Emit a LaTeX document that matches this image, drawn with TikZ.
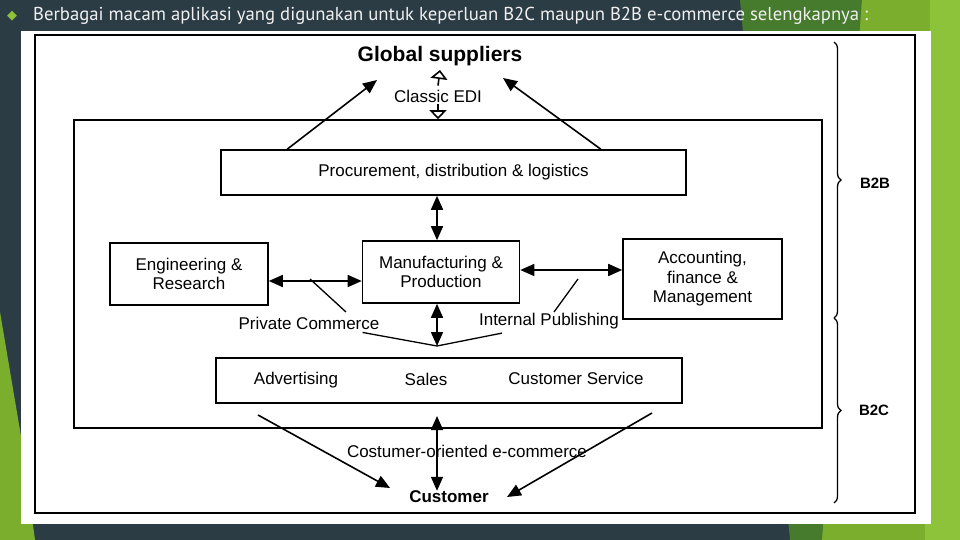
\documentclass[tikz,border=0pt]{standalone}
\usepackage{fontspec}
\setmainfont{Liberation Sans}
\newfontfamily\headfont{PT Sans}
\newfontfamily\symfont{DejaVu Sans}
\usetikzlibrary{arrows.meta,positioning,decorations.pathreplacing}
\definecolor{slate}{HTML}{2B3C45}
\definecolor{darkgreen}{HTML}{467A2C}
\definecolor{midgreen}{HTML}{7CAE2E}
\definecolor{lightgreen}{HTML}{8DC33A}
\tikzstyle{arrow} = [line width=1.6pt,<->]
\tikzstyle{hollow} = [line width=1.6pt,-{Triangle[open,length=9pt,width=17pt]}]

\begin{document}
\begin{tikzpicture}[x=1pt,y=-1pt,>={Triangle[length=14pt,width=12pt]},
    box/.style={draw,line width=1.6pt,inner sep=0pt,align=center,font=\fontsize{17}{19.5}\selectfont},
    txt/.style={inner sep=0pt,font=\fontsize{17}{19.5}\selectfont},
    bold/.style={inner sep=0pt,font=\fontsize{17}{19}\selectfont\bfseries}]
    % slide background
    \fill[slate] (0,0) rectangle (960,540);
    \fill[darkgreen] (740,0) -- (960,0) -- (960,540) -- (790,540) -- cycle;
    \fill[midgreen] (862,0) -- (960,0) -- (960,540) -- (822,540) -- cycle;
    \fill[lightgreen] (930,0) -- (960,0) -- (960,540) -- (925,540) -- cycle;
    \fill[midgreen] (0,312) -- (22,442) -- (35,540) -- (0,540) -- cycle;
    \fill[white] (21,31) rectangle (931,524);
    \node (bullet) at (12,16) {\color{lightgreen}\symfont\fontsize{13}{13}\selectfont ◆};
    \node (title) [anchor=west, inner sep=0pt, text=white!94!black] at (33,16)
        {\headfont\fontsize{18.7}{21}\selectfont Berbagai macam aplikasi yang digunakan untuk keperluan B2C maupun B2B e-commerce selengkapnya :};
    % create the nodes
    \node (frame) [draw, line width=1.6pt, minimum width=880pt, minimum height=478pt] at (475,274) {};
    \node (ent) [draw, line width=1.6pt, minimum width=748pt, minimum height=308pt] at (448,274) {};
    \node (gs) [inner sep=0pt, font=\fontsize{21}{23}\selectfont\bfseries] at (440,56) {Global suppliers};
    \node (edi) [txt] at (438,96) {Classic EDI};
    \node (proc) [box, minimum width=465pt, minimum height=45pt] at (453.5,172.5) {Procurement, distribution \& logistics};
    \node (manu) [box, minimum width=157pt, minimum height=62pt] at (441,272) {Manufacturing \&\\Production};
    \node (eng) [box, minimum width=158pt, minimum height=62pt] at (189,274) {Engineering \&\\Research};
    \node (acc) [box, minimum width=159pt, minimum height=80pt] at (702.5,279) {Accounting,\\finance \&\\Management};
    \node (pc) [txt] at (309,323) {Private Commerce};
    \node (ip) [txt] at (549,321) {Internal Publishing};
    \node (sales) [box, minimum width=466pt, minimum height=45pt] at (449,380.5) {};
    \node (adv) [txt] at (296,380) {Advertising};
    \node (sal) [txt] at (426,379) {Sales};
    \node (cs) [txt] at (576,378) {Customer Service};
    \node (coe) [txt] at (467,451) {Costumer-oriented e-commerce};
    \node (cu) [bold] at (449,497) {Customer};
    \node (b2b) [bold, font=\fontsize{15}{17}\selectfont\bfseries] at (875,183) {B2B};
    \node (b2c) [bold, font=\fontsize{15}{17}\selectfont\bfseries] at (874,410) {B2C};
    \coordinate (gsL) at (377,80);
    \coordinate (gsR) at (503,78);
    \coordinate (pcT) at (310,279);
    \coordinate (pcB) at (346,312);
    \coordinate (ipT) at (578,279);
    \coordinate (ipB) at (554,312);
    \coordinate (vj) at (437,346);
    \coordinate (salS) at (437,416);
    \coordinate (advS) at (258,415);
    \coordinate (csS) at (652,413);
    \coordinate (cuL) at (390,488);
    \coordinate (cuR) at (507,497);
    % connect the nodes
    \draw[hollow] ([yshift=4pt]edi.north) -- ([yshift=-4pt]gs.south);
    \draw[hollow] ([yshift=-2pt]edi.south) -- (edi.south |- ent.north);
    \draw[line width=1.6pt,->] ([xshift=67pt]proc.north west) -- (gsL);
    \draw[line width=1.6pt,->] ([xshift=-86pt]proc.north east) -- (gsR);
    \draw[arrow] (manu.north -| salS) -- (proc.south -| salS);
    \draw[arrow] (eng.east |- 0,281) -- (manu.west |- 0,281);
    \draw[arrow] (manu.east |- 0,270) -- (acc.west |- 0,270);
    \draw[line width=1.3pt] (pcB) -- (pcT);
    \draw[line width=1.3pt] (ipB) -- (ipT);
    \draw[arrow] (manu.south -| salS) -- (vj);
    \draw[line width=1.3pt] ([xshift=-17pt,yshift=-3pt]pc.south east) -- (vj) -- ([xshift=23pt,yshift=-4pt]ip.south west);
    \draw[line width=1.6pt,->] (advS) -- (cuL);
    \draw[line width=1.6pt,->] (csS) -- (cuR);
    \draw[arrow] (salS) -- (cu.north -| salS);
    \draw[line width=1.3pt, decorate, decoration={brace, amplitude=7pt}] (834,42) -- (834,318);
    \draw[line width=1.3pt, decorate, decoration={brace, amplitude=7pt}] (834,318) -- (834,503);
\end{tikzpicture}
\end{document}
